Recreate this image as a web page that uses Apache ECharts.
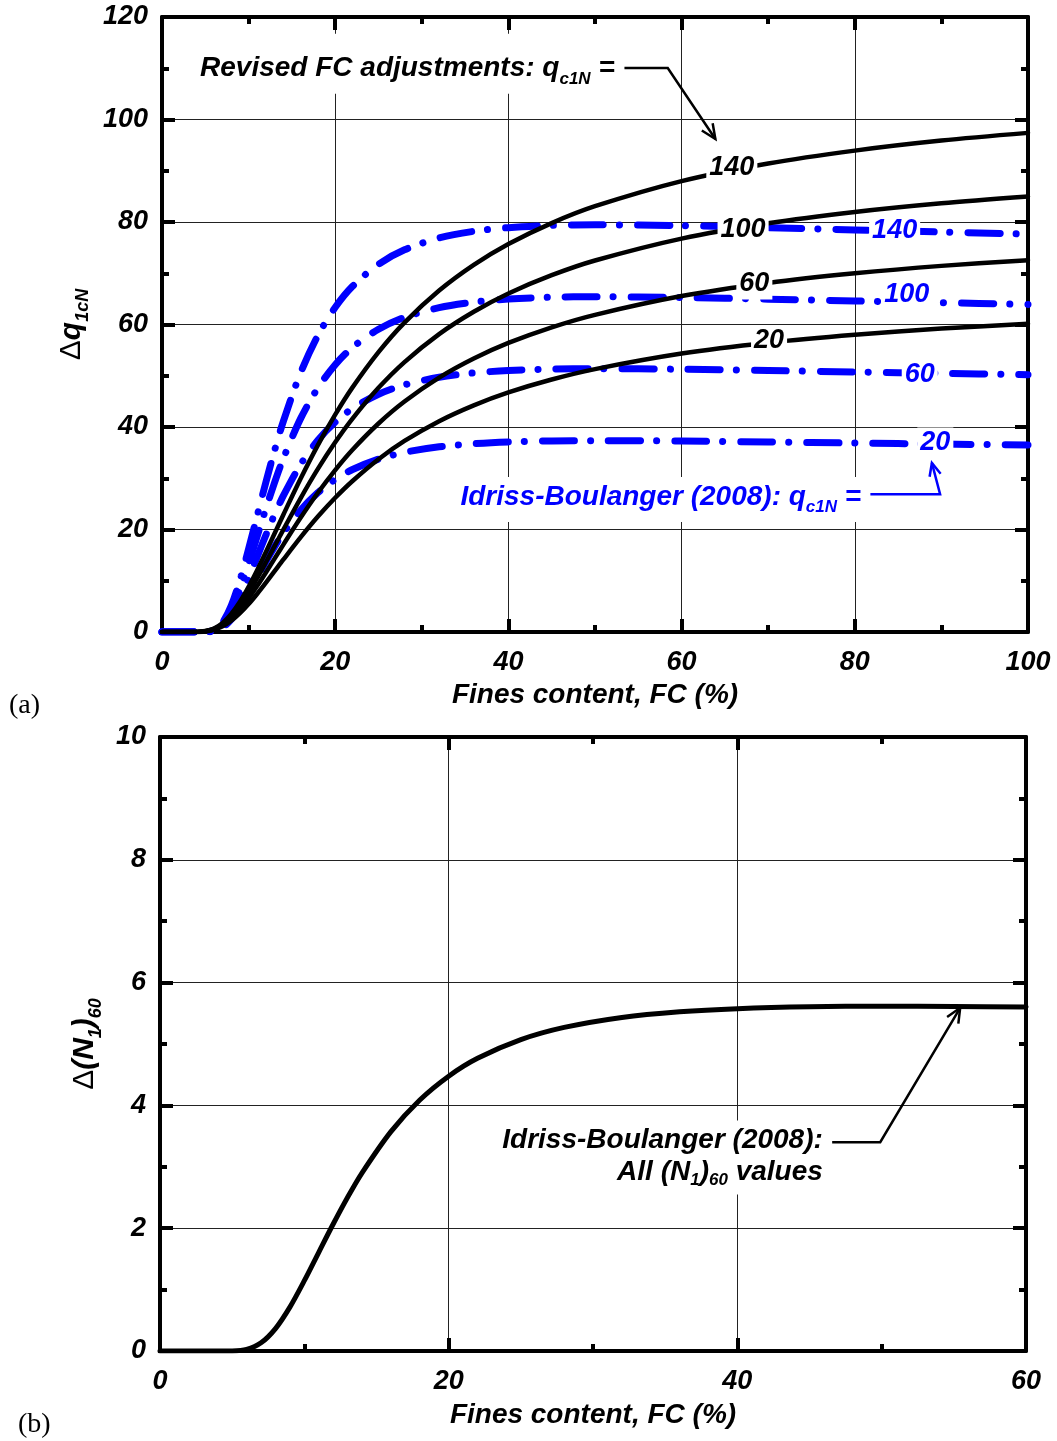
<!DOCTYPE html>
<html>
<head>
<meta charset="utf-8">
<script src="https://cdn.jsdelivr.net/npm/echarts@6/dist/echarts.min.js"></script>
<style>
html,body{margin:0;padding:0;background:#fff;}
#main{width:1057px;height:1441px;}
</style>
</head>
<body>
<div id="main"></div>
<script>
// ---------- panel (a) data: Fines content (%) vs delta q_c1N ----------
const fcA = [0,4,5,6,7,8,9,10,11,12,13,14,16,18,20,22,25,28,32,36,40,45,50,60,70,80,90,100];
// Idriss-Boulanger (2008), q_c1N = 20, 60, 100, 140
const ib20  = [0,0,0.01,0.18,0.88,2.43,4.75,7.61,10.69,13.75,16.65,19.30,23.76,27.19,29.77,31.70,33.72,35.05,36.13,36.74,37.08,37.29,37.34,37.26,37.07,36.87,36.67,36.49];
const ib60  = [0,0,0.02,0.25,1.22,3.34,6.54,10.48,14.71,18.92,22.91,26.55,32.69,37.41,40.96,43.62,46.40,48.22,49.71,50.55,51.02,51.30,51.38,51.27,51.01,50.74,50.46,50.21];
const ib100 = [0,0,0.02,0.32,1.55,4.25,8.33,13.34,18.73,24.09,29.17,33.81,41.63,47.63,52.15,55.54,59.08,61.40,63.29,64.37,64.96,65.32,65.41,65.27,64.95,64.60,64.25,63.92];
const ib140 = [0,0,0.03,0.39,1.88,5.16,10.12,16.20,22.75,29.26,35.43,41.06,50.56,57.85,63.34,67.45,71.75,74.57,76.88,78.18,78.90,79.34,79.45,79.28,78.89,78.46,78.04,77.64];
// Revised FC adjustments, q_c1N = 20, 60, 100, 140
const rev20  = [0,0.01,0.11,0.43,1.10,2.18,3.66,5.45,7.47,9.63,11.86,14.10,18.46,22.52,26.19,29.47,33.72,37.28,41.14,44.23,46.75,49.27,51.30,54.33,56.45,58.00,59.21,60.14];
const rev60  = [0,0.02,0.13,0.52,1.33,2.63,4.41,6.57,9.01,11.62,14.31,17.01,22.28,27.17,31.60,35.56,40.68,44.97,49.63,53.36,56.40,59.45,61.89,65.55,68.11,69.98,71.44,72.56];
const rev100 = [0,0.02,0.16,0.61,1.55,3.08,5.17,7.70,10.55,13.61,16.76,19.93,26.09,31.82,37.01,41.64,47.64,52.67,58.13,62.49,66.06,69.62,72.49,76.76,79.76,81.96,83.66,84.98];
const rev140 = [0,0.02,0.18,0.69,1.78,3.54,5.92,8.82,12.10,15.60,19.21,22.84,29.90,36.47,42.41,47.73,54.61,60.37,66.62,71.63,75.71,79.79,83.08,87.98,91.42,93.93,95.89,97.39];
const qLevels = ['20','60','100','140'];
const revLabelAt = [[70.1,56.8],[68.4,67.9],[67.1,78.6],[65.8,90.7]];
const ibLabelAt  = [[89.3,36.9],[87.5,50.3],[86.0,65.8],[84.6,78.4]];

// ---------- panel (b) data: Fines content (%) vs delta (N1)60 ----------
const fcB = [0,4,5,6,7,8,9,10,11,12,13,14,16,18,20,22,25,28,32,36,40,45,50,55,60];
const dN160 = [0,0,0.002,0.027,0.133,0.365,0.715,1.145,1.608,2.068,2.504,2.902,3.573,4.088,4.476,4.767,5.071,5.270,5.433,5.525,5.576,5.607,5.615,5.612,5.603];

const F = '"Liberation Sans", Arial, sans-serif';
const BI = {fontFamily: F, fontWeight: 'bold', fontStyle: 'italic'};
const BLUE = '#0000ff';

function pairs(xs, ys) { return xs.map((x, i) => [x, ys[i]]); }

function axisBase(gi, min, max, interval, pos, main) {
  return {
    type: 'value', gridIndex: gi, min: min, max: max, interval: interval, position: pos,
    axisLine: {show: true, onZero: false, lineStyle: {color: '#000', width: 4}},
    axisTick: {show: true, inside: true, length: 13, lineStyle: {color: '#000', width: 4}},
    minorTick: {show: true, splitNumber: 2, length: 7, lineStyle: {color: '#000', width: 4}},
    splitLine: {show: main, lineStyle: {color: '#222', width: 1}},
    minorSplitLine: {show: false},
    axisLabel: {show: main, fontSize: 27, color: '#000', ...BI},
    z: 1
  };
}

const subRich = (size) => ({
  t: {fontSize: 30, color: '#000', lineHeight: 42, ...BI},
  s: {fontSize: size, color: '#000', lineHeight: 20, padding: [22, 0, 0, 0], ...BI},
  d: {fontSize: 30, color: '#000', lineHeight: 42, fontFamily: F}
});

const xA = axisBase(0, 0, 100, 20, 'bottom', true);
Object.assign(xA, {name: 'Fines content, FC (%)', nameLocation: 'middle', nameGap: 49, nameMoveOverlap: false,
  nameTextStyle: {fontSize: 28, color: '#000', ...BI}});
xA.axisLabel.margin = 17;
const xAtop = axisBase(0, 0, 100, 20, 'top', false);
const yA = axisBase(0, 0, 120, 20, 'left', true);
Object.assign(yA, {name: '{d|Δ}{t|q}{s|1cN}', nameLocation: 'middle', nameGap: 62, nameRotate: 90,
  nameTextStyle: {rich: subRich(18)}});
yA.axisLabel.margin = 14;
const yAright = axisBase(0, 0, 120, 20, 'right', false);

const xB = axisBase(1, 0, 60, 20, 'bottom', true);
Object.assign(xB, {name: 'Fines content, FC (%)', nameLocation: 'middle', nameGap: 50, nameMoveOverlap: false,
  nameTextStyle: {fontSize: 28, color: '#000', ...BI}});
xB.axisLabel.margin = 17;
const xBtop = axisBase(1, 0, 60, 20, 'top', false);
const yB = axisBase(1, 0, 10, 2, 'left', true);
Object.assign(yB, {name: '{d|Δ}{t|(N}{s|1}{t|)}{s|60}', nameLocation: 'middle', nameGap: 50, nameRotate: 90,
  nameTextStyle: {rich: subRich(18)}});
yB.axisLabel.margin = 14;
const yBright = axisBase(1, 0, 10, 2, 'right', false);

function labelMark(text, at, color) {
  return {
    symbol: 'circle', symbolSize: 1, silent: true, animation: false,
    itemStyle: {color: 'rgba(0,0,0,0)'},
    label: {show: true, position: 'inside', formatter: text, color: color, fontSize: 27, ...BI,
      backgroundColor: '#fff', padding: [3, 3, 1, 3]},
    data: [{coord: at}]
  };
}

const ibData = [ib20, ib60, ib100, ib140];
const revData = [rev20, rev60, rev100, rev140];
const series = [];
ibData.forEach((d, i) => {
  series.push({
    type: 'line', name: 'IB2008 ' + qLevels[i], xAxisIndex: 0, yAxisIndex: 0,
    data: pairs(fcA, d), showSymbol: false, smooth: 0.3,
    lineStyle: {color: BLUE, width: 7, type: [32, 16, 0.1, 18], cap: 'round', join: 'round'},
    z: 3, markPoint: labelMark(qLevels[i], ibLabelAt[i], BLUE)
  });
});
revData.forEach((d, i) => {
  series.push({
    type: 'line', name: 'Revised ' + qLevels[i], xAxisIndex: 0, yAxisIndex: 0,
    data: pairs(fcA, d), showSymbol: false, smooth: 0.3,
    lineStyle: {color: '#000', width: 4.5, cap: 'round', join: 'round'},
    z: 4, markPoint: labelMark(qLevels[i], revLabelAt[i], '#000')
  });
});
series.push({
  type: 'line', name: 'IB2008 all', xAxisIndex: 2, yAxisIndex: 2,
  data: pairs(fcB, dN160), showSymbol: false, smooth: 0.3,
  lineStyle: {color: '#000', width: 5, cap: 'round', join: 'round'}, z: 3
});

const option = {
  animation: false,
  backgroundColor: '#fff',
  grid: [
    {left: 162, top: 17, width: 866, height: 615},
    {left: 160, top: 737, width: 866, height: 614}
  ],
  xAxis: [xA, xAtop, xB, xBtop],
  yAxis: [yA, yAright, yB, yBright],
  series: series
};

const chart = echarts.init(document.getElementById('main'), null, {width: 1057, height: 1441});
chart.setOption(option);

// ---------- annotations (positions in data coordinates) ----------
const PA = (x, y) => chart.convertToPixel({xAxisIndex: 0, yAxisIndex: 0}, [x, y]);
const PB = (x, y) => chart.convertToPixel({xAxisIndex: 2, yAxisIndex: 2}, [x, y]);

function arrow(pts, color, width, head) {
  const n = pts.length, tip = pts[n - 1], prev = pts[n - 2];
  const ang = Math.atan2(tip[1] - prev[1], tip[0] - prev[0]);
  const w1 = [tip[0] + head * Math.cos(ang + Math.PI - 0.42), tip[1] + head * Math.sin(ang + Math.PI - 0.42)];
  const w2 = [tip[0] + head * Math.cos(ang + Math.PI + 0.42), tip[1] + head * Math.sin(ang + Math.PI + 0.42)];
  return [
    {type: 'polyline', z: 100, silent: true, shape: {points: pts}, style: {stroke: color, lineWidth: width, fill: null}},
    {type: 'polyline', z: 100, silent: true, shape: {points: [w1, tip, w2]}, style: {stroke: color, lineWidth: width, fill: null, lineJoin: 'miter'}}
  ];
}

function zrRich(color) {
  return {
    t: {fontSize: 28, fill: color, lineHeight: 40, fontFamily: F, fontWeight: 'bold', fontStyle: 'italic'},
    s: {fontSize: 17, fill: color, lineHeight: 20, padding: [21, 0, 0, 0], fontFamily: F, fontWeight: 'bold', fontStyle: 'italic'}
  };
}
function zrRich2(color) {
  return {
    t: {fontSize: 28, fill: color, lineHeight: 32, fontFamily: F, fontWeight: 'bold', fontStyle: 'italic'},
    s: {fontSize: 17, fill: color, lineHeight: 16, padding: [16, 0, 0, 0], fontFamily: F, fontWeight: 'bold', fontStyle: 'italic'}
  };
}

const revTextAt = PA(3.93, 110.9);
const ibTextAt = PA(34.0, 25.85);
const bTextAt = PB(46.2, 3.15);

const graphic = [
  {type: 'text', z: 90, silent: true, x: revTextAt[0], y: revTextAt[1],
    style: {text: '{t|Revised FC adjustments: q}{s|c1N}{t| =}', rich: zrRich('#000'),
      align: 'left', verticalAlign: 'middle', backgroundColor: '#fff', padding: [15, 4, 5, 4]}},
  {type: 'text', z: 90, silent: true, x: ibTextAt[0], y: ibTextAt[1],
    style: {text: '{t|Idriss-Boulanger (2008): q}{s|c1N}{t| =}', rich: zrRich(BLUE),
      align: 'left', verticalAlign: 'middle', backgroundColor: '#fff', padding: [0, 4, 5, 4]}},
  {type: 'text', z: 90, silent: true, x: bTextAt[0], y: bTextAt[1],
    style: {text: '{t|Idriss-Boulanger (2008):}\n{t|All (N}{s|1}{t|)}{s|60}{t| values}', rich: zrRich2('#000'),
      align: 'right', verticalAlign: 'middle', backgroundColor: '#fff', padding: [4, 4, 6, 4]}},
  {type: 'text', z: 90, silent: true, x: 9, y: 706,
    style: {text: '(a)', fontSize: 28, fontFamily: '"Liberation Serif", "Times New Roman", serif', fill: '#000', align: 'left', verticalAlign: 'middle'}},
  {type: 'text', z: 90, silent: true, x: 18, y: 1425,
    style: {text: '(b)', fontSize: 28, fontFamily: '"Liberation Serif", "Times New Roman", serif', fill: '#000', align: 'left', verticalAlign: 'middle'}}
];
graphic.push(...arrow([PA(53.4, 110.05), PA(58.4, 110.05), PA(63.9, 96.2)], '#000', 2.5, 16));
graphic.push(...arrow([PA(81.8, 26.9), PA(89.85, 26.9), PA(88.9, 33.0)], BLUE, 2.5, 14));
graphic.push(...arrow([PB(46.57, 3.40), PB(49.9, 3.40), PB(55.44, 5.59)], '#000', 2.5, 16));

chart.setOption({graphic: graphic});
</script>
</body>
</html>
